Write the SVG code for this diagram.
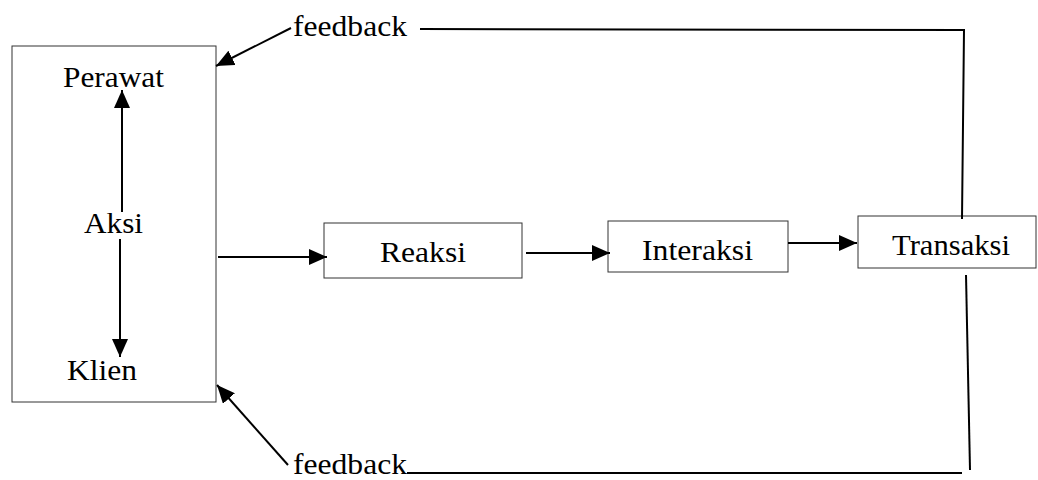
<svg xmlns="http://www.w3.org/2000/svg" width="1038" height="480" viewBox="0 0 1038 480">
  <style>
    .box { fill: #ffffff; stroke: #333333; stroke-width: 1; }
    .lbl { font-family: "Liberation Serif", "Times New Roman", serif; font-size: 30px; fill: #000000; }
    .conn { stroke: #000000; stroke-width: 2; fill: none; }
  </style>
  <defs>
    <marker id="arrow" viewBox="0 0 18 16" refX="18" refY="8" markerWidth="18" markerHeight="16" markerUnits="userSpaceOnUse" orient="auto">
      <path d="M0,0 L18,8 L0,16 z" fill="#000000"/>
    </marker>
  </defs>
  <rect width="1038" height="480" fill="#ffffff"/>

  <g id="aksi-box">
    <rect class="box" x="12" y="46" width="204" height="356"/>
    <text class="lbl" x="63" y="87" textLength="101" lengthAdjust="spacingAndGlyphs">Perawat</text>
    <text class="lbl" x="84" y="233" textLength="59" lengthAdjust="spacingAndGlyphs">Aksi</text>
    <text class="lbl" x="67" y="380" textLength="70" lengthAdjust="spacingAndGlyphs">Klien</text>
  </g>
  <g id="reaksi">
    <rect class="box" x="324" y="223" width="198" height="55"/>
    <text class="lbl" x="380" y="262" textLength="86" lengthAdjust="spacingAndGlyphs">Reaksi</text>
  </g>
  <g id="interaksi">
    <rect class="box" x="608" y="221" width="180" height="51"/>
    <text class="lbl" x="642" y="260" textLength="111" lengthAdjust="spacingAndGlyphs">Interaksi</text>
  </g>
  <g id="transaksi">
    <rect class="box" x="858" y="216" width="178" height="52"/>
    <text class="lbl" x="892" y="255" textLength="118" lengthAdjust="spacingAndGlyphs">Transaksi</text>
  </g>
  <g id="feedback-top">
    <text class="lbl" x="293" y="36" textLength="114" lengthAdjust="spacingAndGlyphs">feedback</text>
  </g>
  <g id="feedback-bottom">
    <text class="lbl" x="293" y="474" textLength="114" lengthAdjust="spacingAndGlyphs">feedback</text>
  </g>

  <g id="connectors">
    <line class="conn" x1="122" y1="212" x2="122" y2="90" marker-end="url(#arrow)"/>
    <line class="conn" x1="120" y1="239" x2="120" y2="357" marker-end="url(#arrow)"/>
    <line class="conn" x1="218" y1="257" x2="327" y2="257" marker-end="url(#arrow)"/>
    <line class="conn" x1="526" y1="253" x2="610" y2="253" marker-end="url(#arrow)"/>
    <line class="conn" x1="788" y1="243" x2="857" y2="243" marker-end="url(#arrow)"/>
    <line class="conn" x1="291" y1="28" x2="216" y2="66" marker-end="url(#arrow)"/>
    <line class="conn" x1="288" y1="465" x2="217" y2="385" marker-end="url(#arrow)"/>
    <polyline class="conn" points="420,29 964,30 962,219"/>
    <polyline class="conn" points="966,275 970,470"/>
    <line class="conn" x1="407" y1="473" x2="962" y2="473"/>
  </g>
</svg>
